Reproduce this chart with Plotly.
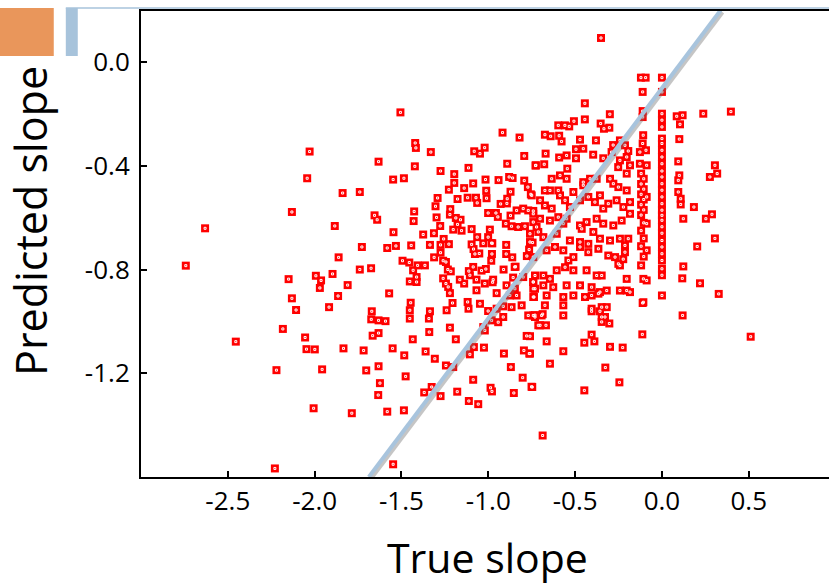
import numpy as np
import plotly.graph_objects as go

# ---- data: (true slope, predicted slope) ----
left_sparse = [(-2.029,-0.345),(-1.632,-0.384),(-2.043,-0.448),(-1.839,-0.505),(-1.740,-0.501),(-2.131,-0.578),
    (-2.631,-0.641),(-1.884,-0.632),(-1.655,-0.591),(-1.640,-0.608),(-1.728,-0.713),(-1.862,-0.753),(-2.742,-0.785),
    (-1.740,-0.800),(-1.675,-0.795),(-2.150,-0.837),(-1.993,-0.824),(-1.963,-0.842),(-1.897,-0.817)]
left_low = [(-1.970,-0.871),(-1.810,-0.860),(-2.131,-0.911),(-1.865,-0.902),(-2.107,-0.956),(-1.917,-0.945),
    (-1.671,-0.961),(-1.674,-0.992),(-1.632,-0.996),(-2.183,-1.029),(-2.454,-1.078),(-2.055,-1.062),(-2.047,-1.107),
    (-1.999,-1.108),(-1.834,-1.104),(-1.718,-1.112),(-1.666,-1.055),(-1.632,-1.045),(-2.220,-1.188),(-1.957,-1.185),
    (-1.703,-1.189),(-1.632,-1.173),(-1.624,-1.238),(-1.634,-1.284),(-2.006,-1.335),(-1.786,-1.354),(-2.229,-1.567)]
mid_upper = [(-1.506,-0.194),(-0.918,-0.272),(-0.820,-0.291),(-1.421,-0.312),(-1.417,-0.331),(-1.331,-0.347),
    (-1.081,-0.344),(-1.048,-0.353),(-1.021,-0.330),(-0.793,-0.362),(-0.728,-0.399),(-1.423,-0.402),(-0.891,-0.392),
    (-1.275,-0.420),(-1.196,-0.432),(-1.114,-0.408),(-1.548,-0.453),(-1.486,-0.448),(-1.016,-0.453),(-0.941,-0.455),
    (-0.880,-0.443),(-0.860,-0.447),(-0.793,-0.457),(-0.772,-0.482),(-0.755,-0.510),(-1.196,-0.466),(-1.227,-0.492),
    (-1.139,-0.486),(-1.087,-0.468),(-1.012,-0.496),(-1.010,-0.525),(-0.872,-0.500),(-0.891,-0.527),(-1.292,-0.524),
    (-1.304,-0.556),(-1.177,-0.528),(-1.119,-0.523),(-1.071,-0.523),(-1.064,-0.543),(-0.929,-0.547),(-0.893,-0.545),
    (-1.219,-0.567),(-1.221,-0.588),(-1.001,-0.582),(-0.956,-0.582),(-0.945,-0.597),(-1.427,-0.576),(-1.430,-0.613),
    (-1.298,-0.599),(-1.277,-0.632),(-1.187,-0.601),(-1.160,-0.608),(-1.177,-0.626),(-0.872,-0.592),(-0.837,-0.572),
    (-0.799,-0.565),(-0.770,-0.572),(-0.741,-0.574),(-0.899,-0.623),(-0.866,-0.633),(-0.828,-0.636),(-0.789,-0.633),
    (-0.741,-0.617),(-0.722,-0.636),(-1.546,-0.656),(-1.375,-0.665),(-1.313,-0.660),(-1.202,-0.646),(-1.154,-0.650),
    (-1.096,-0.644),(-0.991,-0.646),(-1.001,-0.675),(-0.981,-0.698),(-0.760,-0.662),(-0.745,-0.696),(-1.257,-0.682),
    (-1.227,-0.702),(-1.275,-0.705),(-1.336,-0.705),(-1.444,-0.707),(-1.582,-0.717),(-1.532,-0.709),(-1.064,-0.675),
    (-1.096,-0.703),(-1.029,-0.699),(-0.977,-0.699),(-0.897,-0.705),(-1.085,-0.721),(-1.077,-0.740),(-1.052,-0.738),
    (-0.979,-0.740),(-0.983,-0.766),(-0.897,-0.740),(-0.862,-0.753),(-0.843,-0.789),(-0.778,-0.748),(-0.765,-0.723),
    (-1.312,-0.753),(-1.275,-0.735),(-1.260,-0.766),(-1.494,-0.766),(-1.455,-0.773),(-1.407,-0.784),(-1.365,-0.784),
    (-1.433,-0.803),(-1.413,-0.829),(-1.244,-0.771),(-1.233,-0.800),(-1.216,-0.807),(-1.087,-0.790),(-1.112,-0.806),
    (-1.039,-0.804),(-1.014,-0.798),(-0.912,-0.800),(-0.848,-0.790),(-1.260,-0.834),(-1.164,-0.839),(-0.972,-0.839),
    (-1.068,-0.839)]
mid_lower = [(-1.452,-0.846),(-1.413,-0.848),(-1.244,-0.854),(-1.231,-0.867),(-1.221,-0.891),(-1.139,-0.854),
    (-1.106,-0.822),(-1.068,-0.880),(-1.020,-0.854),(-0.975,-0.849),(-0.952,-0.891),(-0.895,-0.861),(-0.857,-0.831),
    (-0.847,-0.874),(-0.876,-0.900),(-0.837,-0.900),(-0.799,-0.829),(-0.741,-0.848),(-0.731,-0.874),(-0.737,-0.906),
    (-1.571,-0.892),(-1.447,-0.928),(-1.452,-0.957),(-1.452,-0.989),(-1.336,-0.961),(-1.342,-0.989),(-1.240,-0.957),
    (-1.206,-0.929),(-1.119,-0.925),(-1.114,-0.951),(-1.048,-0.932),(-1.001,-0.960),(-0.952,-0.951),(-0.914,-0.942),
    (-0.866,-0.945),(-0.808,-0.938),(-0.981,-0.996),(-0.943,-1.003),(-0.914,-0.983),(-1.020,-1.035),(-1.029,-1.022),
    (-0.770,-0.977),(-0.731,-0.983),(-0.712,-1.015),(-1.592,-0.999),(-1.340,-1.041),(-1.221,-1.024),(-1.187,-1.069),
    (-1.435,-1.069),(-1.551,-1.104),(-1.484,-1.131),(-1.361,-1.116),(-1.308,-1.144),(-1.106,-1.127),(-1.083,-1.099),
    (-1.025,-1.101),(-0.910,-1.124),(-0.795,-1.112),(-0.764,-1.124),(-0.779,-1.056),(-1.476,-1.212),(-1.244,-1.170),
    (-1.202,-1.176),(-1.087,-1.225),(-0.870,-1.176),(-0.802,-1.217),(-0.751,-1.252),(-1.369,-1.274),(-1.326,-1.253),
    (-1.275,-1.288),(-1.179,-1.271),(-0.987,-1.256),(-0.979,-1.270),(-0.853,-1.276),(-1.112,-1.307),(-1.058,-1.319),
    (-1.582,-1.348),(-1.486,-1.343),(-0.687,-1.440),(-1.548,-1.551)]
right_upper = [(-0.351,0.093),(-0.121,-0.060),(-0.094,-0.060),(-0.111,-0.115),(-0.444,-0.159),(-0.300,-0.201),
    (-0.111,-0.189),(-0.111,-0.212),(-0.444,-0.221),(-0.597,-0.244),(-0.559,-0.244),(-0.534,-0.248),(-0.507,-0.228),
    (-0.353,-0.237),(-0.334,-0.257),(-0.303,-0.253),(-0.674,-0.280),(-0.641,-0.286),(-0.592,-0.284),(-0.578,-0.306),
    (-0.472,-0.299),(-0.495,-0.336),(-0.453,-0.334),(-0.380,-0.302),(-0.281,-0.320),(-0.290,-0.347),(-0.242,-0.302),
    (-0.213,-0.321),(-0.194,-0.343),(-0.108,-0.282),(-0.111,-0.314),(-0.127,-0.347),(-0.092,-0.340),(-0.670,-0.353),
    (-0.726,-0.398),(-0.678,-0.394),(-0.592,-0.368),(-0.549,-0.360),(-0.495,-0.371),(-0.396,-0.357),(-0.338,-0.371),
    (-0.545,-0.411),(-0.242,-0.379),(-0.203,-0.366),(-0.184,-0.398),(-0.252,-0.405),(-0.127,-0.392),(-0.088,-0.398),
    (-0.203,-0.430)]
right_dense = [(-0.635,-0.450),(-0.587,-0.437),(-0.549,-0.450),(-0.453,-0.463),(-0.414,-0.450),(-0.376,-0.450),
    (-0.674,-0.495),(-0.645,-0.495),(-0.597,-0.495),(-0.510,-0.501),(-0.453,-0.475),(-0.280,-0.469),(-0.251,-0.482),
    (-0.203,-0.495),(-0.299,-0.450),
    (-0.750,-0.514),(-0.702,-0.533),(-0.674,-0.553),(-0.635,-0.565),(-0.587,-0.514),(-0.558,-0.533),(-0.530,-0.559),
    (-0.472,-0.533),(-0.424,-0.520),(-0.386,-0.540),(-0.357,-0.514),(-0.309,-0.546),(-0.261,-0.533),(-0.222,-0.559),
    (-0.184,-0.540),(-0.338,-0.565),
    (-0.741,-0.585),(-0.702,-0.604),(-0.645,-0.611),(-0.597,-0.598),(-0.549,-0.604),(-0.434,-0.617),(-0.376,-0.604),
    (-0.338,-0.623),(-0.280,-0.630),(-0.232,-0.611),(-0.184,-0.585),(-0.568,-0.623),(-0.472,-0.630),
    (-0.712,-0.655),(-0.760,-0.694),(-0.683,-0.675),(-0.606,-0.662),(-0.462,-0.643),(-0.395,-0.655),(-0.357,-0.681),
    (-0.299,-0.688),(-0.242,-0.681),(-0.194,-0.681),(-0.472,-0.694),(-0.424,-0.701),(-0.530,-0.688),
    (-0.741,-0.752),(-0.664,-0.726),(-0.616,-0.713),(-0.568,-0.726),(-0.539,-0.765),(-0.472,-0.713),(-0.424,-0.733),
    (-0.366,-0.720),(-0.309,-0.746),(-0.270,-0.752),(-0.213,-0.733),(-0.510,-0.752),
    (-0.731,-0.823),(-0.683,-0.823),(-0.645,-0.836),(-0.606,-0.803),(-0.558,-0.791),(-0.510,-0.803),(-0.434,-0.803),
    (-0.376,-0.823),(-0.347,-0.823),(-0.251,-0.778),(-0.203,-0.836),
    (-0.741,-0.848),(-0.741,-0.874),(-0.683,-0.861),(-0.626,-0.868),(-0.549,-0.861),(-0.472,-0.861),(-0.405,-0.868),
    (-0.357,-0.887),(-0.318,-0.881),(-0.242,-0.881),(-0.203,-0.881),(-0.184,-0.887),
    (-0.741,-0.906),(-0.664,-0.900),(-0.568,-0.906),(-0.510,-0.900),(-0.443,-0.906),(-0.405,-0.900),(-0.366,-0.893),
    (-0.568,-0.938),(-0.674,-0.938),(-0.405,-0.951),(-0.347,-0.945),(-0.318,-0.945),
    (-0.741,-0.977),(-0.693,-0.977),(-0.568,-0.977),(-0.347,-0.983),
    (-0.213,-0.707),(-0.223,-0.760),(-0.242,-0.784)]
right_lower = [(-0.731,-0.976),(-0.687,-0.972),(-0.702,-1.015),(-0.668,-1.015),(-0.405,-0.961),(-0.357,-0.961),
    (-0.328,-0.983),(-0.347,-1.002),(-0.303,-1.008),(-0.405,-1.051),(-0.447,-1.082),(-0.389,-1.077),(-0.664,-1.077),
    (-0.568,-1.115),(-0.760,-1.057),(-0.760,-1.124),(-0.299,-1.098),(-0.226,-1.101),(-0.645,-1.163),(-0.326,-1.178),
    (-0.245,-1.235),(-0.747,-1.253),(-0.447,-1.266),(-0.113,-1.050),(-0.111,-0.929)]
col_minus_011 = [(-0.120,-0.430),(-0.105,-0.450),(-0.120,-0.470),(-0.105,-0.490),(-0.120,-0.510),(-0.105,-0.530),
    (-0.120,-0.550),(-0.105,-0.570),(-0.120,-0.590),(-0.105,-0.620),(-0.120,-0.650),(-0.105,-0.680),(-0.120,-0.710),
    (-0.105,-0.750),(-0.120,-0.784),(-0.107,-0.836),(-0.088,-0.520),(-0.088,-0.623),(-0.088,-0.726),(-0.088,-0.842),
    (-0.107,-0.926)]
col_zero = [(0.0,-0.060),(0.0,-0.115),(0.0,-0.199),(0.0,-0.224),(0.0,-0.250),(0.0,-0.295),(0.0,-0.314),(0.0,-0.340),
    (0.0,-0.366),(0.0,-0.392),(0.0,-0.420),(0.0,-0.443),(0.0,-0.469),(0.0,-0.494),(0.0,-0.520),(0.0,-0.546),
    (0.0,-0.571),(0.0,-0.591),(0.0,-0.610),(0.0,-0.635),(0.0,-0.660),(0.0,-0.688),(0.0,-0.713),(0.0,-0.739),
    (0.0,-0.765),(0.0,-0.797),(0.0,-0.822),(0.0,-0.900)]
positive = [(0.085,-0.209),(0.119,-0.205),(0.104,-0.240),(0.238,-0.199),(0.397,-0.191),(0.100,-0.297),(0.094,-0.383),
    (0.100,-0.437),(0.094,-0.456),(0.305,-0.398),(0.318,-0.430),(0.276,-0.443),(0.094,-0.501),(0.108,-0.527),
    (0.108,-0.549),(0.184,-0.559),(0.123,-0.604),(0.253,-0.604),(0.288,-0.587),(0.305,-0.680),(0.203,-0.711),
    (0.123,-0.788),(0.117,-0.834),(0.219,-0.853),(0.327,-0.894),(0.119,-0.977),(0.511,-1.059)]

groups = [left_sparse, left_low, mid_upper, mid_lower, right_upper, right_dense, right_lower,
          col_minus_011, col_zero, positive]
true_slope = [p[0] for g in groups for p in g]
pred_slope = [p[1] for g in groups for p in g]

line_x = [-1.688, 0.338]
line_y = [-1.600, 0.200]

x_ticks = [-2.5, -2.0, -1.5, -1.0, -0.5, 0.0, 0.5]
y_ticks = [0.0, -0.4, -0.8, -1.2]

FONT = "'Open Sans', 'Noto Sans', sans-serif"

fig = go.Figure()
fig.add_trace(go.Scatter(x=true_slope, y=pred_slope, mode="markers",
                         marker=dict(symbol="square", size=8, color="#FF0000", line=dict(width=0)),
                         hoverinfo="skip", showlegend=False))
fig.add_trace(go.Scatter(x=true_slope, y=pred_slope, mode="markers",
                         marker=dict(symbol="square-open", size=2, color="white", line=dict(width=1, color="white")),
                         hoverinfo="skip", showlegend=False))
# soft shadow of the line
fig.add_trace(go.Scatter(x=np.array(line_x) + 0.011, y=np.array(line_y) - 0.008, mode="lines",
                         line=dict(color="rgba(110,110,110,0.40)", width=4), hoverinfo="skip", showlegend=False))
fig.add_trace(go.Scatter(x=line_x, y=line_y, mode="lines",
                         line=dict(color="#A8C4DD", width=4), hoverinfo="skip", showlegend=False))

fig.update_layout(
    width=829, height=586,
    margin=dict(l=141, r=0, t=11, b=109),
    paper_bgcolor="white", plot_bgcolor="white",
    font=dict(family=FONT, color="black"),
    xaxis=dict(range=[-3.0, 0.962], tickvals=x_ticks, ticktext=[f"{v:.1f}" for v in x_ticks],
               showgrid=False, zeroline=False, showline=True, linecolor="black", linewidth=2, mirror=True,
               ticks="inside", ticklen=6, tickwidth=2, tickcolor="black",
               tickfont=dict(size=26, family=FONT), ticklabelstandoff=0),
    yaxis=dict(range=[-1.6, 0.197], tickvals=y_ticks, ticktext=[f"{v:.1f}" for v in y_ticks],
               showgrid=False, zeroline=False, showline=True, linecolor="black", linewidth=2,
               ticks="inside", ticklen=6, tickwidth=2, tickcolor="black",
               tickfont=dict(size=26, family=FONT), ticklabelstandoff=4),
    shapes=[
        dict(type="rect", xref="paper", yref="paper", x0=-0.2053, x1=-0.1268, y0=0.9034, y1=1.0064,
             fillcolor="#E9965B", line=dict(width=0), layer="above"),
        dict(type="rect", xref="paper", yref="paper", x0=-0.1093, x1=-0.0919, y0=0.9034, y1=1.0064,
             fillcolor="#A7C3DB", line=dict(width=0), layer="above"),
        dict(type="line", xref="paper", yref="paper", x0=-0.1093, x1=1.0, y0=1.0064, y1=1.0064,
             line=dict(color="#A7C3DB", width=1.5), layer="above"),
    ],
    annotations=[
        dict(text="True slope", xref="paper", yref="paper", x=0.5042, y=-0.1717, showarrow=False,
             xanchor="center", yanchor="middle", font=dict(size=41, family=FONT, color="black")),
        dict(text="Predicted slope", xref="paper", yref="paper", x=-0.1617, y=0.549, showarrow=False,
             textangle=-90, xanchor="center", yanchor="middle", font=dict(size=43, family=FONT, color="black")),
    ],
)

fig.write_html("out.html", config={"displayModeBar": False})

# remove the browser's default page margin so the figure sits at the window's top-left corner
with open("out.html", "r", encoding="utf-8") as f:
    html = f.read()
html = html.replace("<head>", "<head><style>html,body{margin:0;padding:0;overflow:hidden;}</style>", 1)
with open("out.html", "w", encoding="utf-8") as f:
    f.write(html)
